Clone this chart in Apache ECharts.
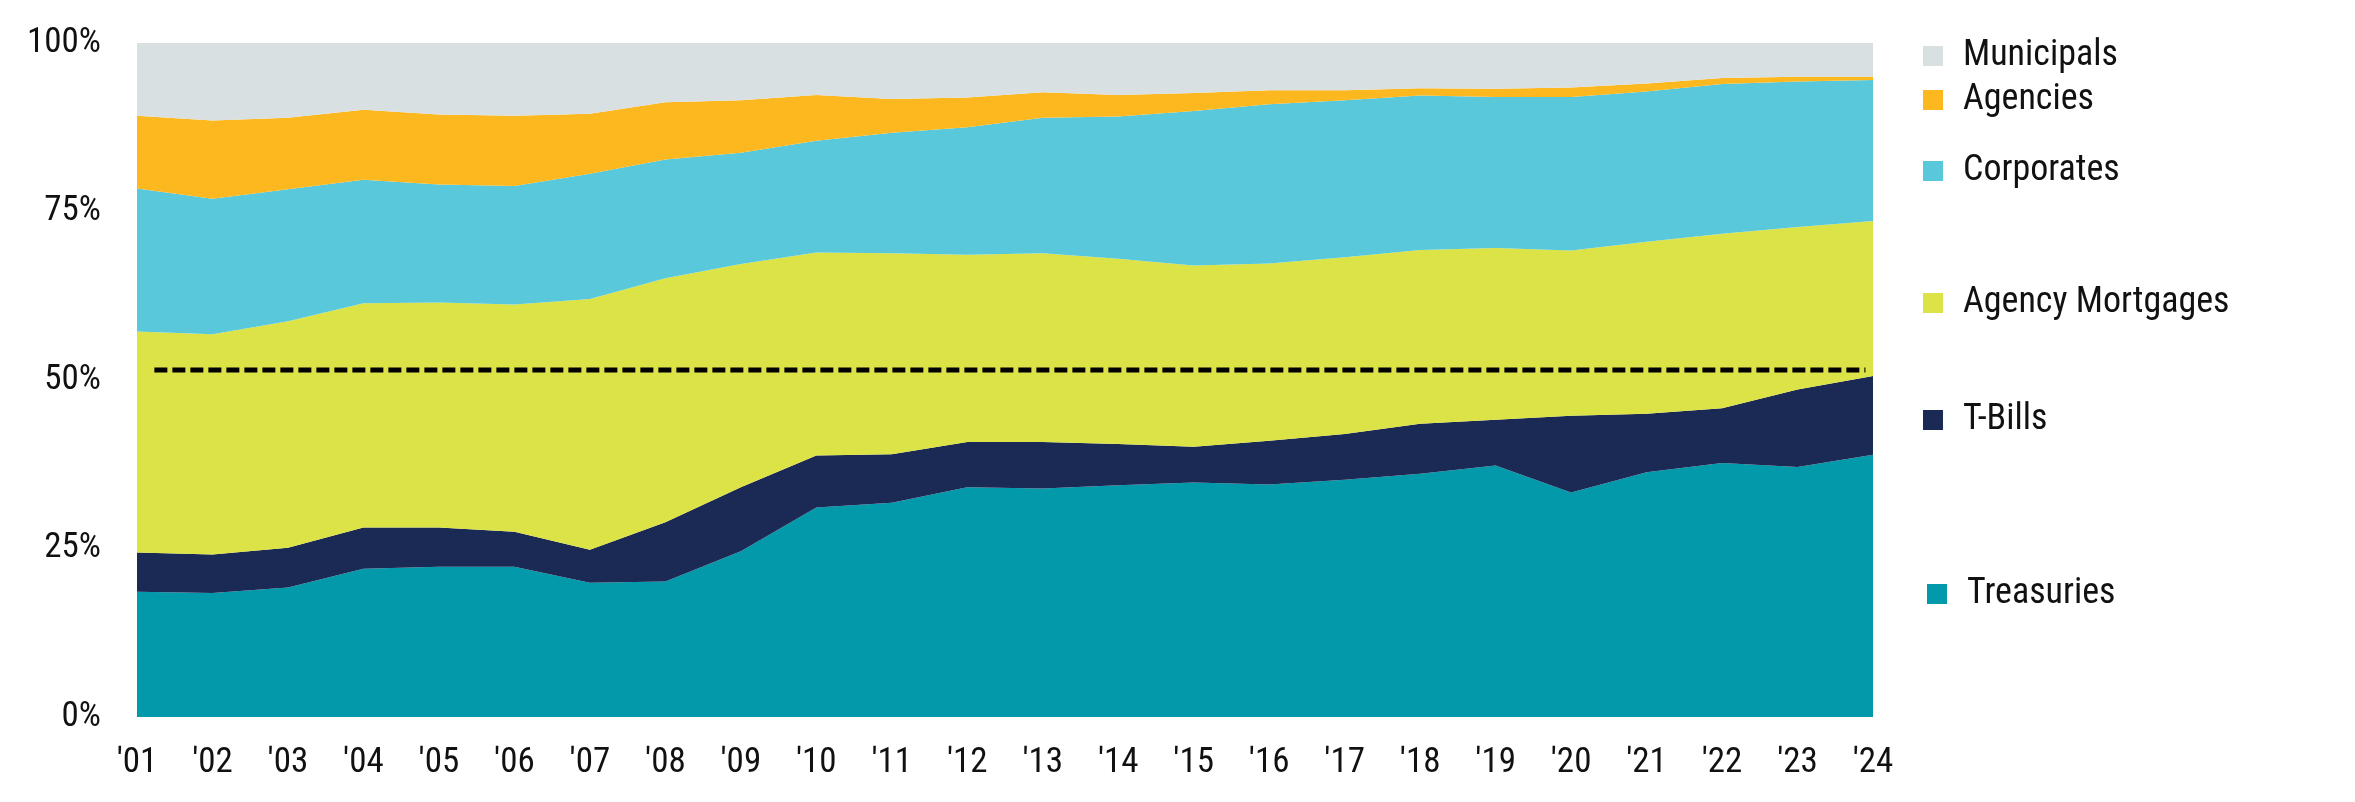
<!DOCTYPE html>
<html>
<head>
<meta charset="utf-8">
<script src="https://cdn.jsdelivr.net/npm/echarts@6/dist/echarts.min.js"></script>
<style>
html,body{margin:0;padding:0;background:#fff;}
#chart{width:2355px;height:802px;}
</style>
</head>
<body>
<div id="chart"></div>
<script>
const years = ["'01","'02","'03","'04","'05","'06","'07","'08","'09","'10","'11","'12","'13","'14","'15","'16","'17","'18","'19","'20","'21","'22","'23","'24"];
const treasuries = [18.6,18.4,19.2,22.0,22.3,22.3,19.9,20.1,24.6,31.1,31.8,34.1,33.9,34.4,34.8,34.5,35.2,36.1,37.3,33.3,36.3,37.7,37.1,38.9];
const tBills = [5.8,5.7,5.9,6.1,5.8,5.2,4.9,8.8,9.5,7.7,7.2,6.7,6.9,6.1,5.3,6.5,6.8,7.4,6.8,11.4,8.7,8.1,11.5,11.7];
const agencyMortgages = [32.8,32.7,33.6,33.3,33.4,33.7,37.2,36.2,33.1,30.1,29.8,27.8,28.0,27.5,26.9,26.3,26.2,25.8,25.5,24.5,25.5,25.9,24.1,23.0];
const corporates = [21.2,20.1,19.6,18.3,17.5,17.6,18.6,17.6,16.5,16.6,17.9,18.9,20.1,21.1,22.9,23.6,23.3,22.9,22.4,22.8,22.3,22.2,21.6,20.9];
const agencies = [10.8,11.6,10.6,10.4,10.4,10.4,8.9,8.5,7.8,6.8,5.0,4.4,3.8,3.2,2.7,2.1,1.5,1.1,1.2,1.4,1.2,0.9,0.7,0.5];
const municipals = [10.8,11.5,11.1,9.9,10.6,10.8,10.5,8.8,8.5,7.7,8.3,8.1,7.3,7.7,7.4,7.0,7.0,6.7,6.8,6.6,6.0,5.2,5.0,5.0];
const yTicks = [0,25,50,75,100];
const refLineX = [0.23, 22.9];
const refLineY = 51.5;

const FONT = "'Roboto Condensed','Liberation Sans Narrow','DejaVu Sans Condensed',Roboto,sans-serif";
const seriesDefs = [
  {name:'Treasuries', data:treasuries, color:'#029AAB'},
  {name:'T-Bills', data:tBills, color:'#1B2A55'},
  {name:'Agency Mortgages', data:agencyMortgages, color:'#DCE346'},
  {name:'Corporates', data:corporates, color:'#58C8DA'},
  {name:'Agencies', data:agencies, color:'#FDB820'},
  {name:'Municipals', data:municipals, color:'#D8E0E2'}
];
const legendPos = {
  'Municipals': {left:1918, cy:51},
  'Agencies': {left:1918, cy:95},
  'Corporates': {left:1918, cy:166},
  'Agency Mortgages': {left:1918, cy:298},
  'T-Bills': {left:1918, cy:415},
  'Treasuries': {left:1922, cy:589}
};

const chart = echarts.init(document.getElementById('chart'));
const series = seriesDefs.map(s => ({
  name: s.name, type:'line', stack:'total', data:s.data,
  symbol:'none', lineStyle:{width:0}, itemStyle:{color:s.color},
  areaStyle:{color:s.color, opacity:1}, emphasis:{disabled:true}, z:2
}));
series.push({
  name:'ref', type:'line', xAxisIndex:1, yAxisIndex:0,
  data: refLineX.map(x => [x, refLineY]),
  symbol:'none', lineStyle:{color:'#000', width:5, type:[13,5]}, z:5, silent:true
});

const legends = seriesDefs.map(s => ({
  data:[s.name], left:legendPos[s.name].left, top:legendPos[s.name].cy - 21,
  icon:'rect', itemWidth:20, itemHeight:20, selectedMode:false,
  textStyle:{fontFamily:FONT, fontSize:36, color:'#111', lineHeight:42, padding:[0,0,0,15]}
}));

chart.setOption({
  animation:false,
  backgroundColor:'#fff',
  legend: legends,
  grid:{left:137, right:482, top:43, bottom:85, containLabel:false},
  xAxis:[{
    type:'category', data:years, boundaryGap:false,
    axisLine:{show:false}, axisTick:{show:false}, splitLine:{show:false},
    axisLabel:{fontFamily:FONT, fontSize:35, color:'#111', margin:29, interval:0}
  },{
    type:'value', min:0, max:years.length-1, show:false
  }],
  yAxis:{
    type:'value', min:yTicks[0], max:yTicks[yTicks.length-1], interval:25,
    axisLine:{show:false}, axisTick:{show:false}, splitLine:{show:false},
    axisLabel:{fontFamily:FONT, fontSize:35, color:'#111', margin:36, formatter:'{value}%'}
  },
  series: series
});
</script>
</body>
</html>
